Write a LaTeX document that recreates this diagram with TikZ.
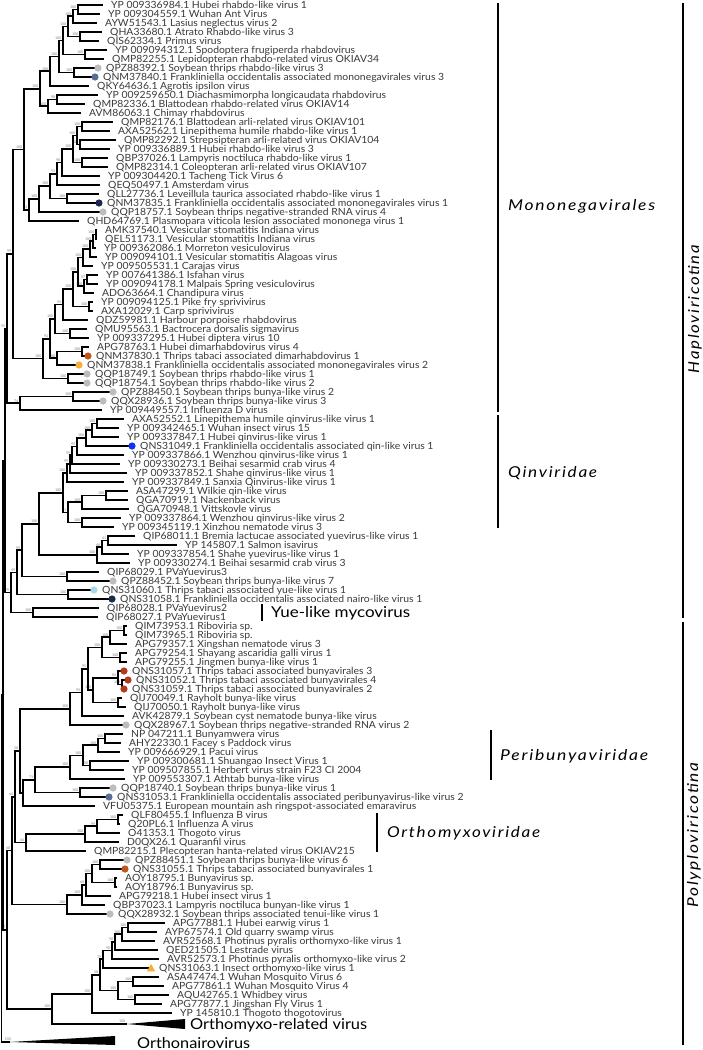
\documentclass[tikz,border=0pt]{standalone}
\usepackage{fontspec}
\setmainfont{Lato}
\newfontfamily\leaffont[FakeStretch=1.05]{Lato}
\newfontfamily\cladefont[LetterSpace=10]{Lato}
\usepackage{graphicx}
\usepackage{tikz}
\usetikzlibrary{calc}
\definecolor{thripgrey}{HTML}{BDBDBD}
\definecolor{slateblue}{HTML}{5B6E96}
\definecolor{navy}{HTML}{1C2B4B}
\definecolor{rust}{HTML}{C1561D}
\definecolor{amber}{HTML}{F4AF3D}
\definecolor{brightblue}{HTML}{1233F5}
\definecolor{skyblue}{HTML}{A9D9E8}
\definecolor{brick}{HTML}{B43A1C}
\definecolor{leafgrey}{HTML}{3A3A3A}

% leaf: number, tip x, label
\newcommand\leaf[3]{%
  \coordinate (L#1) at (#2,{5+(#1-1)*9});
  \node[leaflab] (t#1) at (L#1) {#3};}
% inner node: name, x, first child, second child, support
\newcommand\inode[5]{%
  \coordinate (tmp) at ($(#3)!.5!(#4)$);
  \coordinate (#1) at (#2,0 |- tmp);
  \draw[branch] (#1) |- (#3);
  \draw[branch] (#1) |- (#4);
  \node[boot] (s#1) at (#1) {#5};}
% stretch a label to the width it has in the figure
\newcommand\fitto[2]{\resizebox{#1pt}{\height}{#2}}

\begin{document}
\begin{tikzpicture}[
  x=1pt,y=-1pt,
  branch/.style={line width=1.7pt,black},
  leaflab/.style={anchor=base west,inner sep=0pt,xshift=8pt,yshift=-3.5pt,font=\leaffont\fontsize{9.9}{10}\selectfont,text=leafgrey},
  boot/.style={anchor=south east,inner sep=0pt,xshift=-1.5pt,yshift=1pt,font=\fontsize{3.6}{4}\selectfont,text=gray},
  bar/.style={line width=1.5pt},
  clade/.style={inner sep=0pt,font=\cladefont\fontsize{15}{15}\selectfont\itshape},
  bigl/.style={anchor=base west,inner sep=0pt,yshift=-5.3pt,font=\fontsize{15}{15}\selectfont}
]
\useasboundingbox (0,0) rectangle (702,1050);
\fill[white] (0,0) rectangle (702,1050);

% leaves
\leaf{1}{103}{YP 009336984.1 Hubei rhabdo-like virus 1}
\leaf{2}{100}{YP 009304559.1 Wuhan Ant Virus}
\leaf{3}{97}{AYW51543.1 Lasius neglectus virus 2}
\leaf{4}{102}{QHA33680.1 Atrato Rhabdo-like virus 3}
\leaf{5}{99}{QIS62334.1 Primus virus}
\leaf{6}{107}{YP 009094312.1 Spodoptera frugiperda rhabdovirus}
\leaf{7}{104}{QMP82255.1 Lepidopteran rhabdo-related virus OKIAV34}
\leaf{8}{98}{QPZ88392.1 Soybean thrips rhabdo-like virus 3}
\leaf{9}{95}{QNM37840.1 Frankliniella occidentalis associated mononegavirales virus 3}
\leaf{10}{89}{QKY64636.1 Agrotis ipsilon virus}
\leaf{11}{98}{YP 009259650.1 Diachasmimorpha longicaudata rhabdovirus}
\leaf{12}{85}{QMP82336.1 Blattodean rhabdo-related virus OKIAV14}
\leaf{13}{81}{AVM86063.1 Chimay rhabdovirus}
\leaf{14}{113}{QMP82176.1 Blattodean arli-related virus OKIAV101}
\leaf{15}{110}{AXA52562.1 Linepithema humile rhabdo-like virus 1}
\leaf{16}{116}{QMP82292.1 Strepsipteran arli-related virus OKIAV104}
\leaf{17}{110}{YP 009336889.1 Hubei rhabdo-like virus 3}
\leaf{18}{108}{QBP37026.1 Lampyris noctiluca rhabdo-like virus 1}
\leaf{19}{108}{QMP82314.1 Coleopteran arli-related virus OKIAV107}
\leaf{20}{100}{YP 009304420.1 Tacheng Tick Virus 6}
\leaf{21}{100}{QEQ50497.1 Amsterdam virus}
\leaf{22}{99}{QLL27736.1 Leveillula taurica associated rhabdo-like virus 1}
\leaf{23}{99}{QNM37835.1 Frankliniella occidentalis associated mononegavirales virus 1}
\leaf{24}{103}{QQP18757.1 Soybean thrips negative-stranded RNA virus 4}
\leaf{25}{79}{QHD64769.1 Plasmopara viticola lesion associated mononega virus 1}
\leaf{26}{97}{AMK37540.1 Vesicular stomatitis Indiana virus}
\leaf{27}{97}{QEL51173.1 Vesicular stomatitis Indiana virus}
\leaf{28}{96}{YP 009362086.1 Morreton vesiculovirus}
\leaf{29}{97}{YP 009094101.1 Vesicular stomatitis Alagoas virus}
\leaf{30}{93}{YP 009505531.1 Carajas virus}
\leaf{31}{98}{YP 007641386.1 Isfahan virus}
\leaf{32}{98}{YP 009094178.1 Malpais Spring vesiculovirus}
\leaf{33}{94}{ADO63664.1 Chandipura virus}
\leaf{34}{93}{YP 009094125.1 Pike fry sprivivirus}
\leaf{35}{93}{AXA12029.1 Carp sprivivirus}
\leaf{36}{88}{QDZ59981.1 Harbour porpoise rhabdovirus}
\leaf{37}{87}{QMU95563.1 Bactrocera dorsalis sigmavirus}
\leaf{38}{89}{YP 009337295.1 Hubei diptera virus 10}
\leaf{39}{89}{APG78763.1 Hubei dimarhabdovirus virus 4}
\leaf{40}{88}{QNM37830.1 Thrips tabaci associated dimarhabdovirus 1}
\leaf{41}{79}{QNM37838.1 Frankliniella occidentalis associated mononegavirales virus 2}
\leaf{42}{87}{QQP18749.1 Soybean thrips rhabdo-like virus 1}
\leaf{43}{87}{QQP18754.1 Soybean thrips rhabdo-like virus 2}
\leaf{44}{113}{QPZ88450.1 Soybean thrips bunya-like virus 2}
\leaf{45}{103}{QQX28936.1 Soybean thrips bunya-like virus 3}
\leaf{46}{102}{YP 009449557.1 Influenza D virus}
\leaf{47}{124}{AXA52552.1 Linepithema humile qinvirus-like virus 1}
\leaf{48}{119}{YP 009342465.1 Wuhan insect virus 15}
\leaf{49}{119}{YP 009337847.1 Hubei qinvirus-like virus 1}
\leaf{50}{132}{QNS31049.1 Frankliniella occidentalis associated qin-like virus 1}
\leaf{51}{124}{YP 009337866.1 Wenzhou qinvirus-like virus 1}
\leaf{52}{120}{YP 009330273.1 Beihai sesarmid crab virus 4}
\leaf{53}{127}{YP 009337852.1 Shahe qinvirus-like virus 1}
\leaf{54}{124}{YP 009337849.1 Sanxia Qinvirus-like virus 1}
\leaf{55}{128}{ASA47299.1 Wilkie qin-like virus}
\leaf{56}{128}{QGA70919.1 Nackenback virus}
\leaf{57}{129}{QGA70948.1 Vittskovle virus}
\leaf{58}{121}{YP 009337864.1 Wenzhou qinvirus-like virus 2}
\leaf{59}{114}{YP 009345119.1 Xinzhou nematode virus 3}
\leaf{60}{135}{QIP68011.1 Bremia lactucae associated yuevirus-like virus 1}
\leaf{61}{177}{YP 145807.1 Salmon isavirus}
\leaf{62}{129}{YP 009337854.1 Shahe yuevirus-like virus 1}
\leaf{63}{130}{YP 009330274.1 Beihai sesarmid crab virus 3}
\leaf{64}{99}{QIP68029.1 PVaYuevirus3}
\leaf{65}{113}{QPZ88452.1 Soybean thrips bunya-like virus 7}
\leaf{66}{94}{QNS31060.1 Thrips tabaci associated yue-like virus 1}
\leaf{67}{112}{QNS31058.1 Frankliniella occidentalis associated nairo-like virus 1}
\leaf{68}{99}{QIP68028.1 PVaYuevirus2}
\leaf{69}{98}{QIP68027.1 PVaYuevirus1}
\leaf{70}{127}{QIM73953.1 Riboviria sp.}
\leaf{71}{127}{QIM73965.1 Riboviria sp.}
\leaf{72}{127}{APG79357.1 Xingshan nematode virus 3}
\leaf{73}{127}{APG79254.1 Shayang ascaridia galli virus 1}
\leaf{74}{127}{APG79255.1 Jingmen bunya-like virus 1}
\leaf{75}{124}{QNS31057.1 Thrips tabaci associated bunyavirales 3}
\leaf{76}{128}{QNS31052.1 Thrips tabaci associated bunyavirales 4}
\leaf{77}{124}{QNS31059.1 Thrips tabaci associated bunyavirales 2}
\leaf{78}{122}{QIJ70049.1 Rayholt bunya-like virus}
\leaf{79}{126}{QIJ70050.1 Rayholt bunya-like virus}
\leaf{80}{124}{AVK42879.1 Soybean cyst nematode bunya-like virus}
\leaf{81}{126}{QQX28967.1 Soybean thrips negative-stranded RNA virus 2}
\leaf{82}{123}{NP 047211.1 Bunyamwera virus}
\leaf{83}{121}{AHY22330.1 Facey s Paddock virus}
\leaf{84}{120}{YP 009666929.1 Pacui virus}
\leaf{85}{129}{YP 009300681.1 Shuangao Insect Virus 1}
\leaf{86}{124}{YP 009507855.1 Herbert virus strain F23 CI 2004}
\leaf{87}{125}{YP 009553307.1 Athtab bunya-like virus}
\leaf{88}{113}{QQP18740.1 Soybean thrips bunya-like virus 1}
\leaf{89}{109}{QNS31053.1 Frankliniella occidentalis associated peribunyavirus-like virus 2}
\leaf{90}{95}{VFU05375.1 European mountain ash ringspot-associated emaravirus}
\leaf{91}{123}{QLF80455.1 Influenza B virus}
\leaf{92}{120}{Q20PL6.1 Influenza A virus}
\leaf{93}{120}{O41353.1 Thogoto virus}
\leaf{94}{119}{D0QX26.1 Quaranfil virus}
\leaf{95}{86}{QMP82215.1 Plecopteran hanta-related virus OKIAV215}
\leaf{96}{127}{QPZ88451.1 Soybean thrips bunya-like virus 6}
\leaf{97}{125}{QNS31055.1 Thrips tabaci associated bunyavirales 1}
\leaf{98}{117}{AOY18795.1 Bunyavirus sp.}
\leaf{99}{117}{AOY18796.1 Bunyavirus sp.}
\leaf{100}{111}{APG79218.1 Hubei insect virus 1}
\leaf{101}{105}{QBP37023.1 Lampyris noctiluca bunyan-like virus 1}
\leaf{102}{110}{QQX28932.1 Soybean thrips associated tenui-like virus 1}
\leaf{103}{165}{APG77881.1 Hubei earwig virus 1}
\leaf{104}{157}{AYP67574.1 Old quarry swamp virus}
\leaf{105}{155}{AVR52568.1 Photinus pyralis orthomyxo-like virus 1}
\leaf{106}{158}{QED21505.1 Lestrade virus}
\leaf{107}{159}{AVR52573.1 Photinus pyralis orthomyxo-like virus 2}
\leaf{108}{151}{QNS31063.1 Insect orthomyxo-like virus 1}
\leaf{109}{159}{ASA47474.1 Wuhan Mosquito Virus 6}
\leaf{110}{164}{APG77861.1 Wuhan Mosquito Virus 4}
\leaf{111}{169}{AQU42765.1 Whidbey virus}
\leaf{112}{162}{APG77877.1 Jingshan Fly Virus 1}
\leaf{113}{172}{YP 145810.1 Thogoto thogotovirus}
\coordinate (ORel) at (127,1024);
\coordinate (ONairo) at (10,1042);

% Mononegavirales
\inode{a1}{78}{L1}{L2}{100}
\inode{a2}{73}{a1}{L3}{100}
\inode{a3}{80}{L4}{L5}{100}
\inode{a4}{68}{a2}{a3}{100}
\inode{a5}{85}{L6}{L7}{100}
\inode{a6}{63}{a4}{a5}{100}
\inode{a7}{74}{L8}{L9}{100}
\inode{a8}{59}{a6}{a7}{100}
\inode{a9}{50}{a8}{L10}{100}
\inode{a10}{57}{L11}{L12}{98}
\inode{a11}{48}{a10}{L13}{100}
\inode{a12}{40}{a9}{a11}{100}
\inode{b1}{82}{L14}{L15}{100}
\inode{b2}{80}{L16}{L17}{100}
\inode{b3}{77}{b1}{b2}{100}
\inode{b4}{82}{L18}{L19}{100}
\inode{b5}{73}{b3}{b4}{100}
\inode{b6}{62}{b5}{L20}{98}
\inode{b7}{57}{b6}{L21}{91}
\inode{b8}{67}{L22}{L23}{100}
\inode{b9}{50}{b7}{b8}{100}
\inode{b10}{39}{b9}{L24}{100}
\inode{b11}{29}{b10}{L25}{71}
\inode{m1}{24}{a12}{b11}{100}
\inode{c1}{96}{L26}{L27}{100}
\inode{c2}{93}{c1}{L28}{100}
\inode{c3}{90}{c2}{L29}{100}
\inode{c4}{83}{c3}{L30}{100}
\inode{c5}{87}{L31}{L32}{97}
\inode{c6}{84}{c5}{L33}{100}
\inode{c7}{78}{c4}{c6}{100}
\inode{c8}{89}{L34}{L35}{100}
\inode{c9}{73}{c7}{c8}{100}
\inode{c10}{63}{c9}{L36}{94}
\inode{c11}{70}{L37}{L38}{100}
\inode{c12}{55}{c10}{c11}{100}
\inode{c13}{82}{L39}{L40}{100}
\inode{c14}{57}{c13}{L41}{100}
\inode{c15}{50}{c12}{c14}{92}
\inode{c16}{68}{L42}{L43}{100}
\inode{c17}{43}{c15}{c16}{100}
\inode{m2}{13}{m1}{c17}{99}
\inode{d1}{73}{L44}{L45}{100}
\inode{d2}{20}{d1}{L46}{74}
\inode{h1}{7}{m2}{d2}{95}

% Qinviridae and yue-like
\inode{e1}{97}{L47}{L48}{100}
\inode{e2}{92}{e1}{L49}{100}
\inode{e3}{86}{e2}{L50}{100}
\inode{e4}{77}{e3}{L51}{95}
\inode{e5}{72}{e4}{L52}{99}
\inode{e6}{70}{e5}{L53}{99}
\inode{e7}{67}{e6}{L54}{100}
\inode{f1}{106}{L55}{L56}{100}
\inode{f2}{82}{f1}{L57}{100}
\inode{f3}{82}{L58}{L59}{100}
\inode{f4}{68}{f2}{f3}{91}
\inode{g1}{63}{e7}{f4}{100}
\inode{i1}{108}{L60}{L61}{41}
\inode{i2}{102}{i1}{L62}{68}
\inode{i3}{97}{i2}{L63}{100}
\inode{k1}{39}{g1}{i3}{100}
\inode{j1}{67}{L64}{L65}{100}
\inode{k2}{22}{k1}{j1}{99}
\inode{j2}{68}{L66}{L67}{100}
\inode{k3}{17}{k2}{j2}{49}
\inode{j3}{33}{L68}{L69}{100}
\inode{k4}{11}{k3}{j3}{79}
\inode{haplo}{5}{h1}{k4}{}

% Polyploviricotina
\inode{p1}{124}{L70}{L71}{100}
\inode{p2}{110}{p1}{L72}{100}
\inode{p3}{120}{L73}{L74}{100}
\inode{p4}{102}{p2}{p3}{100}
\inode{p5}{122}{L76}{L77}{100}
\inode{p6}{118}{L75}{p5}{85}
\inode{q1}{118}{L78}{L79}{100}
\inode{p7}{93}{p6}{q1}{100}
\inode{p8}{88}{p4}{p7}{95}
\inode{p9}{82}{p8}{L80}{95}
\inode{p10}{70}{p9}{L81}{100}
\inode{r1}{105}{L82}{L83}{100}
\inode{r2}{98}{r1}{L84}{100}
\inode{r3}{90}{L85}{L86}{100}
\inode{r4}{83}{r2}{r3}{100}
\inode{r5}{70}{r4}{L87}{100}
\inode{r6}{80}{L88}{L89}{100}
\inode{r7}{35}{r5}{r6}{71}
\inode{r8}{23}{r7}{L90}{}
\inode{s1}{20}{p10}{r8}{50}
\inode{t1}{118}{L91}{L92}{100}
\inode{t2}{97}{t1}{L93}{99}
\inode{t3}{85}{t2}{L94}{100}
\inode{t4}{26}{t3}{L95}{64}
\inode{u1}{15}{s1}{t4}{64}
\inode{w1}{100}{L96}{L97}{100}
\inode{w2}{115}{L98}{L99}{100}
\inode{w3}{92}{w1}{w2}{100}
\inode{w4}{86}{w3}{L100}{68}
\inode{w5}{82}{w4}{L101}{100}
\inode{w6}{67}{w5}{L102}{100}
\inode{v1}{12}{u1}{w6}{68}
\inode{o1}{128}{L103}{L104}{100}
\inode{o2}{122}{o1}{L105}{100}
\inode{o3}{115}{o2}{L106}{98}
\inode{o4}{112}{o3}{L107}{90}
\inode{o5}{103}{o4}{L108}{79}
\inode{o6}{133}{L109}{L110}{100}
\inode{o7}{135}{L111}{L112}{100}
\inode{o8}{118}{o6}{o7}{100}
\inode{o9}{100}{o5}{o8}{58}
\inode{o10}{92}{o9}{L113}{100}
\inode{o11}{52}{o10}{ORel}{100}
\inode{poly}{7}{v1}{o11}{77}
\inode{all}{3}{haplo}{poly}{}
\inode{root}{1.5}{all}{ONairo}{}

% collapsed clades
\fill (ORel) -- (185,1019) -- (185,1029) -- cycle;
\node[boot] (sORel) at (ORel) {100};
\node[bigl] (orellab) at (190,1024) {\fitto{177}{Orthomyxo-related virus}};
\fill (ONairo) -- (115,1036) -- (115,1045) -- cycle;
\node[boot,anchor=south west,xshift=-4pt] (sONairo) at (ONairo) {100};
\node[bigl] (onairolab) at (137,1043) {\fitto{113}{Orthonairovirus}};

% thrips markers
\foreach \n in {8,24,42,43,44,45,65,81,88,96,102}
  \fill[thripgrey] (L\n) circle[radius=3.6pt];
\foreach \n in {9,89}
  \fill[slateblue] (L\n) circle[radius=3.6pt];
\foreach \n in {23,67}
  \fill[navy] (L\n) circle[radius=3.6pt];
\foreach \n in {40,97}
  \fill[rust] (L\n) circle[radius=3.6pt];
\foreach \n in {75,76,77}
  \fill[brick] (L\n) circle[radius=3.6pt];
\fill[amber] (L41) circle[radius=3.6pt];
\fill[brightblue] (L50) circle[radius=3.6pt];
\fill[skyblue] (L66) circle[radius=3.6pt];
\fill[amber] (L108) ++(-4.2,3.4) -- ++(8.4,0) -- ++(-4.2,-7.4) -- cycle;

% clade bars
\draw[bar] (498,3) -- (498,412);
\node[clade,anchor=base west,yshift=-5.3pt] (monolab) at (508,205) {\fitto{147}{Mononegavirales}};
\draw[bar] (498,415) -- (498,528);
\node[clade,anchor=base west,yshift=-5.3pt] (qinlab) at (508,472) {\fitto{89}{Qinviridae}};
\draw[bar] (262,604) -- (262,621);
\node[bigl] (yuelab) at (271,612) {\fitto{139}{Yue-like mycovirus}};
\draw[bar] (491,730) -- (491,780);
\node[clade,anchor=base west,yshift=-5.3pt] (perilab) at (500,755) {\fitto{148}{Peribunyaviridae}};
\draw[bar] (377,813) -- (377,852);
\node[clade,anchor=base west,yshift=-5.3pt] (orthlab) at (387,832) {\fitto{153}{Orthomyxoviridae}};
\draw[bar] (683,3) -- (683,618);
\node[clade,rotate=90] (haplolab) at (695,309) {\fitto{128}{Haploviricotina}};
\draw[bar] (683,622) -- (683,1045);
\node[clade,rotate=90] (polylab) at (694,835) {\fitto{145}{Polyploviricotina}};
\end{tikzpicture}
\end{document}
